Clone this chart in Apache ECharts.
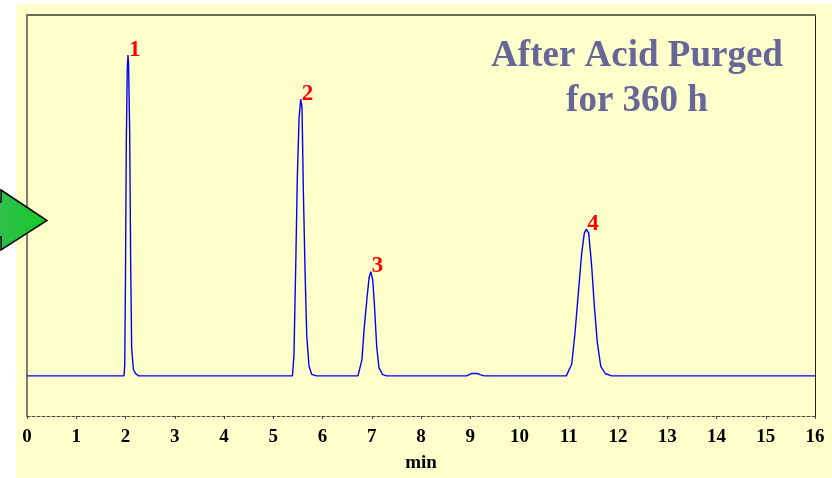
<!DOCTYPE html>
<html><head><meta charset="utf-8">
<script src="https://cdn.jsdelivr.net/npm/echarts@6/dist/echarts.min.js"></script>
<style>html,body{margin:0;padding:0;background:#fff;} #c{width:832px;height:478px;}</style>
</head><body><div id="c"></div>
<script>
// Chromatogram trace, [time (min), signal]
const baselineA = [[0, 0], [1.97, 0]];
const peak1 = [[1.985, 3], [2.0, 25], [2.016, 58], [2.035, 76], [2.05, 80], [2.062, 78], [2.085, 61], [2.105, 28], [2.125, 7], [2.16, 1.6], [2.21, 0.5], [2.27, 0]];
const baselineB = [[5.39, 0]];
const peak2 = [[5.42, 5], [5.455, 26.5], [5.488, 49], [5.523, 64], [5.557, 69], [5.584, 67], [5.61, 47], [5.645, 26.5], [5.68, 10], [5.726, 2.4], [5.78, 0.4], [5.88, 0]];
const baselineC = [[6.72, 0]];
const peak3 = [[6.75, 0.3], [6.80, 4], [6.845, 11.6], [6.90, 19], [6.945, 24.4], [6.98, 26], [7.02, 24], [7.06, 16.5], [7.10, 7.4], [7.147, 2], [7.215, 0.4], [7.30, 0]];
const bump = [[8.93, 0], [9.03, 0.6], [9.14, 0.6], [9.2, 0.3], [9.28, 0]];
const baselineD = [[10.95, 0]];
const peak4 = [[10.99, 0.4], [11.06, 2.9], [11.127, 10.7], [11.195, 20.7], [11.263, 30.6], [11.316, 35.6], [11.357, 36.6], [11.405, 35.6], [11.466, 27.3], [11.52, 17.4], [11.58, 8.3], [11.65, 2.4], [11.74, 0.6], [11.87, 0]];
const baselineE = [[16, 0]];

const peakNames = ['1', '2', '3', '4'];
const peakTimes = [2.05, 5.557, 6.98, 11.357];
const peakHeights = [80, 69, 26, 36.6];

const xMin = 0, xMax = 16, xStep = 1;
const titleLines = ['After Acid Purged', 'for 360 h'];
const xName = 'min';

const trace = [].concat(baselineA, peak1, baselineB, peak2, baselineC, peak3, bump, baselineD, peak4, baselineE);
const labelData = peakTimes.map((t, i) => ({ value: [t, peakHeights[i]], name: peakNames[i] }));

const chart = echarts.init(document.getElementById('c'), null, { renderer: 'canvas' });
const serif = "'Liberation Serif', 'Times New Roman', serif";
chart.setOption({
  animation: false,
  backgroundColor: '#ffffff',
  title: {
    text: titleLines.join('\n'),
    left: 632, top: 29, textAlign: 'center',
    textStyle: { fontFamily: serif, fontWeight: 'bold', fontSize: 37, lineHeight: 45, color: '#666699' }
  },
  graphic: [
    { type: 'rect', z: -10, silent: true, shape: { x: 16, y: 4, width: 816, height: 474 }, style: { fill: '#ffffcc' } },
    { type: 'polygon', z: 100, silent: true,
      shape: { points: [[-30, 202], [1, 202], [1, 190], [47, 220.5], [1, 250], [1, 237], [-30, 237]] },
      style: { fill: new echarts.graphic.LinearGradient(0, 0, 1, 0, [{ offset: 0, color: '#3fb56a' }, { offset: 1, color: '#14cc22' }]), stroke: '#000', lineWidth: 1.5 } }
  ],
  grid: { left: 27, right: 17, top: 15, bottom: 61 },
  xAxis: [
    { type: 'value', min: xMin, max: xMax, interval: xStep, position: 'bottom',
      name: xName, nameLocation: 'middle', nameGap: 38,
      nameTextStyle: { fontFamily: serif, fontWeight: 'bold', fontSize: 19, color: '#000' },
      axisLine: { show: true, onZero: false, lineStyle: { color: '#444', width: 1, type: [3, 2] } },
      axisTick: { show: true, length: 3, lineStyle: { color: '#444' } },
      axisLabel: { fontFamily: serif, fontWeight: 'bold', fontSize: 19, color: '#000', margin: 12 },
      splitLine: { show: false } },
    { type: 'value', min: xMin, max: xMax, position: 'top',
      axisLine: { show: true, onZero: false, lineStyle: { color: '#6b6b5b', width: 2 } },
      axisTick: { show: false }, axisLabel: { show: false }, splitLine: { show: false } }
  ],
  yAxis: [
    { type: 'value', min: -10, max: 90, position: 'left',
      axisLine: { show: true, onZero: false, lineStyle: { color: '#555', width: 1.5 } },
      axisTick: { show: false }, axisLabel: { show: false }, splitLine: { show: false } },
    { type: 'value', min: -10, max: 90, position: 'right',
      axisLine: { show: true, onZero: false, lineStyle: { color: '#222', width: 1 } },
      axisTick: { show: false }, axisLabel: { show: false }, splitLine: { show: false } }
  ],
  series: [
    { type: 'line', data: trace, showSymbol: false, smooth: false,
      lineStyle: { color: '#0000ff', width: 1.4 }, silent: true },
    { type: 'scatter', data: labelData, symbolSize: 0, silent: true, itemStyle: { opacity: 1 },
      label: { show: true, formatter: p => p.name, position: [1, 6], align: 'left', verticalAlign: 'bottom',
        fontFamily: serif, fontWeight: 'bold', fontSize: 23, color: '#ff0000', opacity: 1 } }
  ]
});
</script></body></html>
